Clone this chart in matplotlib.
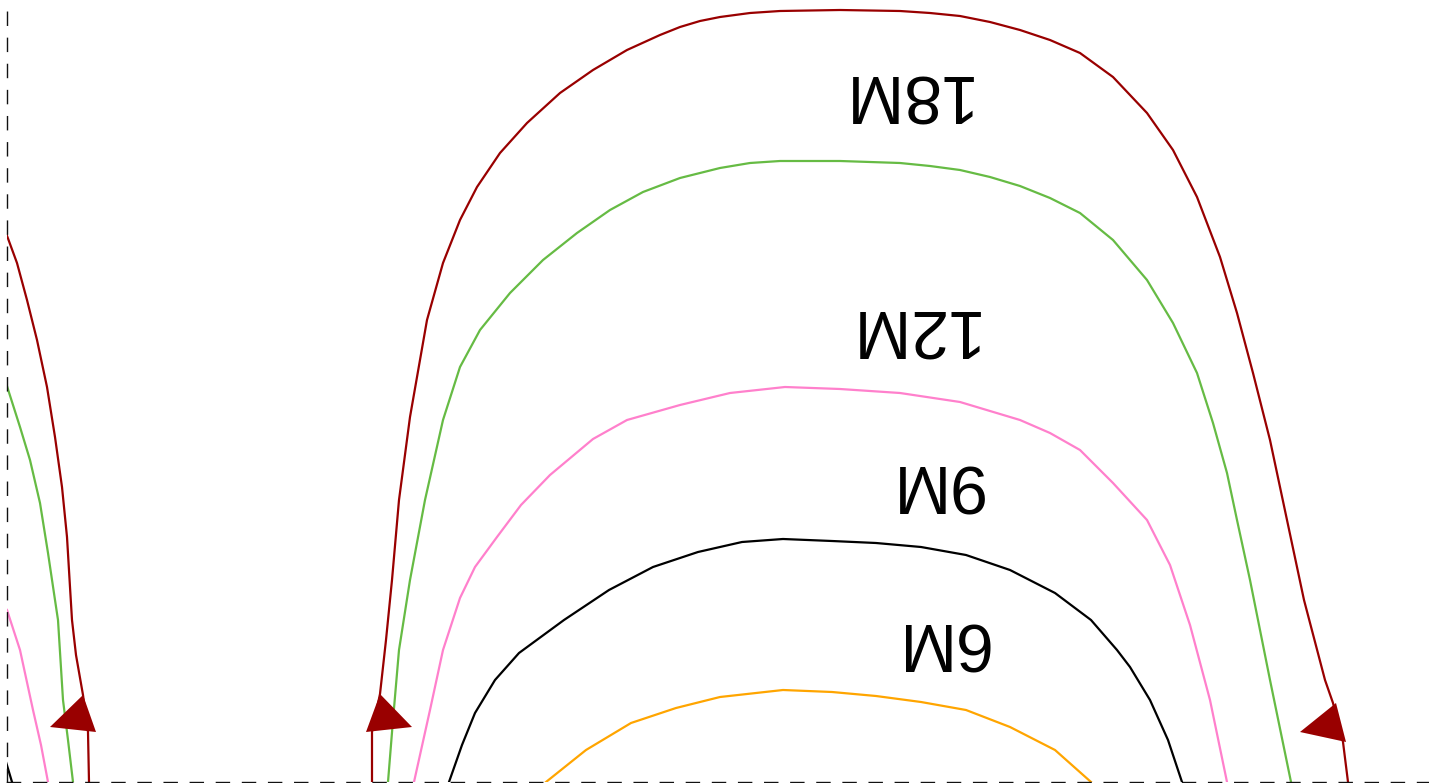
import numpy as np
import matplotlib
matplotlib.use("Agg")
import matplotlib.pyplot as plt

# Curves read off the picture (x to the right, y measured downward from the top)
# left partial loop
left_red_x = [6, 17, 27, 37, 47, 55, 62, 67, 70, 72, 76, 83, 88, 89]
left_red_y = [233, 263, 300, 340, 387, 437, 487, 537, 587, 620, 655, 695, 732, 782]
left_green_x = [6, 20, 30, 40, 48, 55, 58, 63, 68, 73]
left_green_y = [383, 427, 460, 503, 553, 600, 620, 700, 740, 782]
left_pink_x = [7, 20, 33, 41, 48]
left_pink_y = [610, 650, 710, 745, 782]
left_black_x = [6, 12]
left_black_y = [762, 782]

# main arches
red_x = [372, 372, 380, 386, 392, 399, 410, 427, 443, 460, 477, 500, 527, 560, 593,
         627, 660, 680, 700, 720, 750, 780, 840, 900, 930, 960, 990, 1020, 1050, 1080,
         1113, 1147, 1173, 1197, 1220, 1237, 1253, 1270, 1287, 1304, 1325, 1333, 1343,
         1348]
red_y = [782, 732, 694, 640, 580, 500, 417, 320, 263, 220, 187, 153, 123, 93, 70,
         50, 35, 27, 21, 17, 13, 11, 10, 11, 13, 16, 22, 30, 40, 53,
         77, 113, 150, 197, 257, 313, 373, 440, 520, 600, 680, 703, 742,
         782]

green_x = [388, 393, 399, 410, 425, 443, 460, 480, 510, 543, 577, 610, 643, 680, 720,
           750, 780, 840, 900, 930, 960, 990, 1020, 1050, 1080, 1113, 1147, 1173, 1197,
           1213, 1227, 1237, 1250, 1262, 1270, 1291]
green_y = [782, 720, 650, 580, 500, 420, 367, 330, 293, 260, 233, 210, 192, 178, 168,
           163, 161, 161, 163, 166, 170, 177, 186, 198, 213, 240, 280, 323, 373,
           423, 473, 520, 580, 640, 680, 782]

pink_x = [414, 430, 443, 460, 475, 497, 521, 550, 593, 627, 680, 730, 785, 840, 900,
          960, 1020, 1050, 1080, 1113, 1147, 1170, 1190, 1210, 1227]
pink_y = [782, 710, 650, 598, 567, 537, 505, 475, 439, 420, 405, 393, 387, 389, 393,
          402, 420, 433, 450, 483, 520, 565, 625, 700, 782]

black_x = [449, 462, 475, 495, 519, 564, 609, 653, 698, 742, 783, 832, 876, 921, 966,
           1010, 1055, 1091, 1117, 1130, 1150, 1168, 1182]
black_y = [782, 745, 713, 680, 653, 620, 590, 567, 552, 542, 539, 541, 543, 547, 555,
           570, 593, 620, 650, 667, 700, 740, 782]

orange_x = [546, 586, 631, 676, 720, 783, 832, 876, 921, 966, 1010, 1055, 1091]
orange_y = [782, 750, 723, 708, 697, 690, 692, 696, 702, 710, 727, 750, 782]

# arrow heads (three corners each)
arrow_x = [[83, 50, 96], [380, 366, 412], [1336, 1300, 1346]]
arrow_y = [[695, 727, 732], [694, 732, 727], [703, 732, 742]]

# level labels (drawn upside down)
labels = ["18M", "12M", "9M", "6M", "3M"]
label_x = [903, 910, 935, 940, 937]
label_y = [74, 310, 465, 622, 782]

RED = "#990000"
GREEN = "#66bb44"
PINK = "#ff80cc"
ORANGE = "#ffa500"

fig = plt.figure(figsize=(14.29, 7.83), dpi=100)
ax = fig.add_axes([6.5 / 1429, 1.5 / 783, 1 - 6.5 / 1429, 781.5 / 783])
ax.set_xlim(6.5, 1429)
ax.set_ylim(781.5, 0)

lw = 1.6
ax.plot(left_red_x, left_red_y, color=RED, lw=lw)
ax.plot(left_green_x, left_green_y, color=GREEN, lw=lw)
ax.plot(left_pink_x, left_pink_y, color=PINK, lw=lw)
ax.plot(left_black_x, left_black_y, color="black", lw=lw)

ax.plot(red_x, red_y, color=RED, lw=lw)
ax.plot(green_x, green_y, color=GREEN, lw=lw)
ax.plot(pink_x, pink_y, color=PINK, lw=lw)
ax.plot(black_x, black_y, color="black", lw=lw)
ax.plot(orange_x, orange_y, color=ORANGE, lw=lw)

for xs, ys in zip(arrow_x, arrow_y):
    ax.fill(xs, ys, color=RED, lw=0, zorder=3)

for txt, x, y in zip(labels, label_x, label_y):
    ax.text(x, y, txt, rotation=180, rotation_mode="anchor",
            ha="center", va="baseline", fontsize=49, color="black",
            family=["Liberation Sans Narrow", "Liberation Sans", "DejaVu Sans"],
            fontstretch="condensed", clip_on=True)

# dashed frame on two sides only
for side in ["top", "right"]:
    ax.spines[side].set_visible(False)
for side in ["left", "bottom"]:
    ax.spines[side].set_linestyle((0, (9.4, 9.4)))
    ax.spines[side].set_linewidth(1.0)
    ax.spines[side].set_color("#111111")
ax.set_xticks([])
ax.set_yticks([])

fig.savefig("out.png", dpi=100)
